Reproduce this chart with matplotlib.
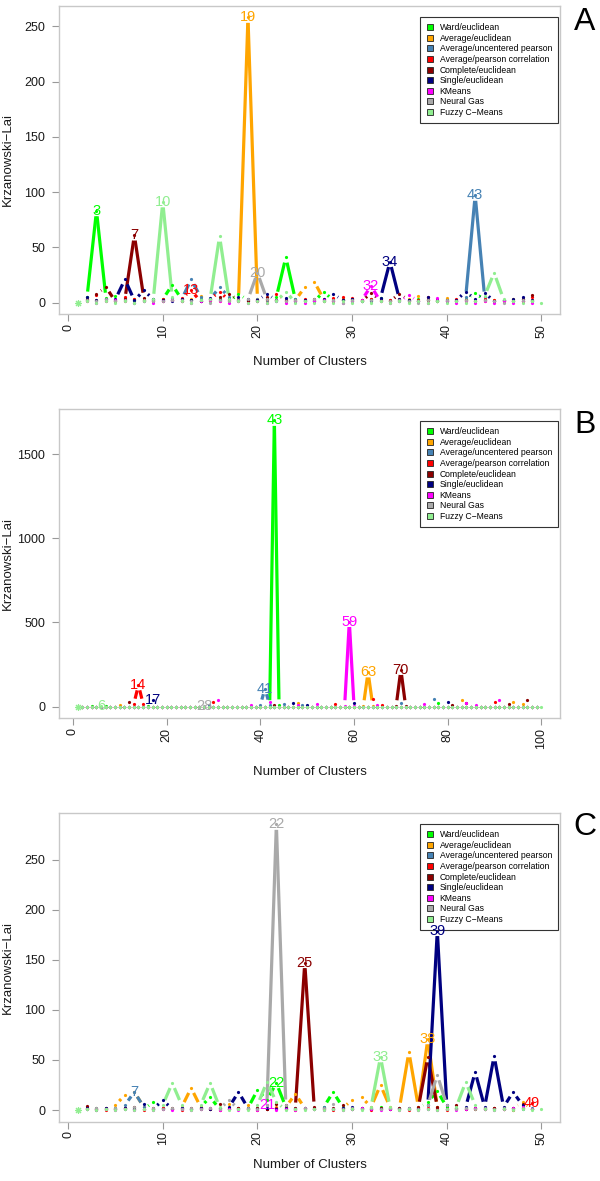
import numpy as np
import matplotlib.pyplot as plt
from matplotlib.lines import Line2D
from matplotlib.ticker import MultipleLocator

plt.rcParams['font.family'] = 'Liberation Sans'

methods = ['Ward/euclidean', 'Average/euclidean', 'Average/uncentered pearson',
           'Average/pearson correlation', 'Complete/euclidean', 'Single/euclidean',
           'KMeans', 'Neural Gas', 'Fuzzy C\u2212Means']
colors = ['#00FF00', '#FFA500', '#4682B4', '#FF0000', '#8B0000',
          '#000080', '#FF00FF', '#A9A9A9', '#90EE90']

# ---- panel A : methods k = 2..49, fuzzy k = 1..50
a_ward = [5, 83, 4, 6, 2, 1, 2, 1, 3, 16,
          3, 2, 3, 1, 3, 1, 8, 2, 1, 3,
          5, 41, 3, 2, 1, 10, 2, 3, 2, 1,
          3, 4, 1, 2, 1, 3, 2, 1, 3, 1,
          3, 9, 2, 1, 2, 1, 1, 1]
a_avg_euc = [1, 2, 1, 2, 1, 3, 1, 2, 1, 2,
             1, 3, 6, 2, 1, 2, 3, 258, 3, 1,
             2, 1, 2, 14, 19, 3, 1, 2, 1, 2,
             1, 2, 1, 2, 3, 6, 2, 1, 4, 2,
             1, 2, 1, 2, 1, 3, 1, 2]
a_avg_unc = [2, 1, 3, 2, 4, 2, 1, 3, 2, 4,
             3, 21, 5, 3, 14, 5, 2, 1, 3, 2,
             1, 2, 3, 1, 2, 1, 3, 2, 1, 2,
             1, 3, 2, 1, 2, 1, 3, 1, 2, 1,
             5, 97, 5, 1, 2, 1, 3, 1]
a_avg_pear = [2, 7, 2, 1, 5, 3, 2, 1, 3, 2,
              4, 11, 1, 3, 10, 2, 1, 2, 1, 3,
              8, 2, 1, 3, 2, 1, 4, 5, 4, 2,
              3, 1, 2, 3, 1, 2, 5, 2, 1, 3,
              2, 1, 3, 2, 1, 2, 1, 5]
a_complete = [3, 8, 14, 1, 3, 61, 4, 2, 1, 2,
              1, 2, 1, 3, 5, 8, 2, 1, 2, 5,
              2, 1, 2, 1, 3, 2, 1, 2, 3, 1,
              9, 2, 1, 8, 2, 1, 2, 1, 2, 1,
              2, 1, 2, 1, 2, 1, 3, 7]
a_single = [5, 2, 3, 3, 21, 2, 11, 3, 2, 1,
            3, 2, 1, 4, 2, 3, 5, 3, 2, 8,
            2, 4, 1, 2, 1, 3, 8, 2, 3, 1,
            2, 4, 37, 3, 2, 1, 5, 2, 1, 2,
            10, 3, 9, 1, 2, 3, 5, 2]
a_kmeans = [1, 0, 1, 2, 1, 0, 1, 0, 1, 2,
            1, 0, 1, 2, 1, 0, 1, 0, 1, 0,
            1, 0, 1, 0, 1, 2, 1, 0, 1, 2,
            15, 1, 0, 1, 7, 1, 0, 4, 1, 0,
            1, 0, 1, 0, 1, 0, 1, 0]
a_ngas = [2, 1, 3, 1, 2, 0, 2, 1, 1, 2,
          2, 1, 2, 0, 2, 1, 2, 3, 27, 3,
          2, 1, 2, 1, 3, 1, 2, 0, 2, 1,
          2, 1, 1, 2, 1, 0, 2, 1, 2, 1,
          2, 1, 2, 1, 0, 1, 2, 1]
a_fuzzy = [0, 1, 0, 1, 0, 1, 0, 1, 3, 91,
           5, 1, 0, 2, 3, 60, 3, 1, 0, 1,
           0, 1, 10, 0, 1, 0, 1, 0, 1, 0,
           1, 0, 1, 0, 1, 0, 1, 0, 1, 0,
           1, 0, 1, 6, 27, 3, 1, 0, 1, 0]

# ---- panel B : methods k = 2..99, fuzzy k = 1..100
b_ward = [0, 0, 2, 0, 0, 3, 0, 0,
          0, 0, 0, 0, 0, 0, 2, 0, 0, 0,
          0, 0, 0, 0, 0, 0, 0, 0, 0, 0,
          0, 0, 0, 0, 0, 0, 0, 0, 0, 0,
          0, 0, 5, 1700, 10, 0, 0, 0, 0, 0,
          0, 0, 0, 0, 0, 0, 0, 0, 0, 0,
          0, 0, 0, 0, 0, 0, 0, 0, 0, 0,
          0, 0, 0, 0, 0, 0, 0, 0, 20, 0,
          0, 0, 0, 0, 0, 0, 0, 0, 0, 0,
          0, 0, 0, 0, 0, 0, 0, 0, 0, 0]
b_avg_euc = [0, 0, 0, 0, 0, 0, 0, 0,
             12, 0, 0, 0, 0, 0, 0, 0, 0, 0,
             0, 0, 0, 0, 0, 0, 0, 0, 0, 0,
             0, 0, 0, 0, 0, 0, 0, 0, 0, 0,
             0, 0, 0, 0, 0, 0, 0, 0, 20, 0,
             0, 0, 0, 0, 0, 0, 0, 0, 0, 0,
             0, 0, 5, 205, 5, 0, 0, 0, 0, 0,
             0, 0, 0, 0, 0, 0, 0, 0, 0, 0,
             0, 0, 0, 40, 0, 0, 0, 0, 0, 0,
             0, 0, 0, 0, 30, 0, 18, 0, 0, 0]
b_avg_unc = [0, 0, 0, 0, 0, 0, 0, 0,
             0, 0, 0, 0, 0, 0, 0, 0, 0, 0,
             0, 0, 0, 0, 0, 0, 0, 0, 0, 10,
             0, 0, 0, 0, 0, 0, 0, 0, 0, 0,
             10, 105, 10, 0, 0, 15, 0, 0, 0, 12,
             0, 0, 0, 0, 0, 0, 0, 0, 0, 0,
             0, 0, 0, 0, 0, 0, 0, 0, 0, 0,
             20, 0, 0, 0, 0, 0, 0, 45, 0, 0,
             0, 0, 0, 0, 0, 0, 0, 0, 0, 0,
             0, 0, 0, 0, 0, 0, 0, 0, 0, 0]
b_avg_pear = [0, 0, 0, 0, 0, 0, 0, 0,
              0, 0, 0, 15, 128, 15, 0, 0, 0, 0,
              0, 0, 0, 0, 0, 0, 0, 0, 0, 0,
              25, 0, 0, 0, 0, 0, 0, 0, 0, 0,
              0, 0, 0, 0, 0, 0, 0, 0, 0, 0,
              0, 0, 0, 0, 0, 0, 15, 0, 0, 0,
              0, 0, 0, 0, 45, 0, 12, 0, 0, 0,
              0, 0, 0, 0, 0, 0, 0, 0, 0, 0,
              0, 0, 0, 0, 0, 0, 0, 0, 0, 0,
              25, 0, 0, 0, 0, 0, 0, 0, 0, 0]
b_complete = [0, 0, 0, 0, 0, 0, 0, 0,
              0, 0, 25, 0, 0, 0, 0, 0, 0, 0,
              0, 0, 0, 0, 0, 0, 0, 0, 0, 0,
              0, 0, 0, 0, 0, 0, 0, 0, 0, 0,
              0, 0, 0, 10, 0, 0, 0, 0, 0, 0,
              0, 0, 0, 0, 0, 0, 0, 0, 0, 0,
              0, 0, 0, 0, 0, 0, 0, 0, 0, 5,
              220, 5, 0, 0, 0, 0, 0, 0, 0, 0,
              0, 12, 0, 0, 20, 0, 0, 0, 0, 0,
              0, 0, 0, 16, 0, 0, 0, 40, 0, 0]
b_single = [0, 0, 0, 0, 0, 0, 0, 0,
            0, 0, 0, 0, 0, 0, 0, 40, 0, 0,
            0, 0, 0, 0, 0, 0, 0, 0, 0, 0,
            0, 0, 0, 0, 0, 0, 0, 0, 0, 0,
            0, 0, 0, 0, 0, 0, 0, 22, 0, 0,
            10, 0, 0, 0, 0, 0, 0, 0, 0, 0,
            20, 0, 0, 0, 0, 0, 0, 0, 0, 0,
            0, 0, 0, 0, 0, 0, 0, 0, 0, 0,
            28, 0, 0, 0, 0, 0, 0, 0, 0, 0,
            0, 0, 0, 0, 0, 0, 0, 0, 0, 0]
b_kmeans = [0, 0, 0, 0, 0, 0, 0, 0,
            0, 0, 0, 0, 0, 0, 0, 0, 0, 0,
            0, 0, 0, 0, 0, 0, 0, 0, 0, 0,
            0, 40, 0, 0, 0, 0, 0, 0, 12, 0,
            0, 0, 30, 0, 0, 0, 0, 0, 12, 0,
            0, 0, 15, 0, 0, 0, 0, 0, 5, 505,
            5, 0, 0, 0, 0, 12, 0, 0, 0, 0,
            0, 0, 0, 0, 0, 14, 0, 0, 0, 0,
            0, 0, 0, 0, 20, 0, 10, 0, 0, 0,
            0, 40, 0, 0, 0, 0, 0, 0, 0, 0]
b_ngas = [0, 0, 0, 0, 0, 0, 0, 0,
          0, 0, 0, 0, 0, 0, 0, 0, 0, 0,
          0, 0, 0, 0, 0, 0, 0, 0, 6, 0,
          0, 0, 0, 0, 0, 0, 0, 0, 0, 0,
          0, 0, 0, 0, 0, 0, 0, 0, 0, 0,
          0, 0, 0, 0, 0, 0, 0, 0, 0, 0,
          0, 0, 0, 0, 0, 0, 0, 0, 0, 0,
          0, 0, 0, 0, 0, 0, 0, 0, 0, 0,
          0, 0, 0, 0, 0, 0, 0, 0, 0, 0,
          0, 0, 0, 0, 0, 0, 0, 0, 0, 0]
b_fuzzy = [0, 0, 0, 0, 0, 1, 0, 0, 0, 0,
           0, 0, 0, 0, 0, 0, 0, 0, 0, 0,
           0, 0, 0, 0, 0, 0, 0, 0, 0, 0,
           0, 0, 0, 0, 0, 0, 0, 0, 0, 0,
           0, 0, 0, 0, 0, 0, 0, 0, 0, 0,
           0, 0, 0, 0, 0, 0, 0, 0, 0, 0,
           0, 0, 0, 0, 0, 0, 0, 0, 0, 0,
           0, 0, 0, 0, 0, 0, 0, 0, 0, 0,
           0, 0, 0, 0, 0, 0, 0, 0, 0, 0,
           0, 0, 0, 0, 0, 0, 0, 0, 0, 0]

# ---- panel C : methods k = 2..49, fuzzy k = 1..50
c_ward = [1, 0, 1, 2, 1, 2, 1, 8, 2, 1,
          2, 1, 3, 13, 1, 2, 1, 2, 20, 10,
          27, 3, 1, 2, 1, 3, 18, 3, 1, 2,
          1, 3, 1, 2, 1, 2, 8, 19, 3, 1,
          2, 1, 2, 1, 2, 1, 2, 1]
c_avg_euc = [1, 2, 1, 5, 15, 18, 3, 1, 2, 1,
             3, 22, 3, 1, 2, 6, 1, 5, 2, 1,
             3, 3, 16, 2, 1, 2, 1, 2, 10, 13,
             3, 25, 3, 2, 58, 3, 71, 3, 1, 2,
             1, 2, 1, 2, 1, 2, 8, 1]
c_avg_unc = [1, 2, 1, 2, 5, 18, 3, 1, 2, 1,
             2, 1, 2, 1, 2, 1, 2, 1, 2, 1,
             2, 1, 2, 1, 2, 3, 1, 2, 1, 2,
             1, 2, 1, 2, 1, 2, 1, 2, 1, 2,
             1, 2, 1, 2, 1, 2, 1, 2]
c_avg_pear = [2, 1, 0, 1, 2, 1, 0, 1, 2, 1,
              0, 1, 2, 1, 0, 1, 2, 1, 0, 1,
              2, 1, 0, 1, 2, 1, 0, 1, 2, 1,
              0, 1, 2, 1, 0, 1, 2, 1, 0, 1,
              2, 1, 2, 2, 1, 0, 2, 7]
c_complete = [4, 1, 2, 1, 2, 3, 1, 2, 1, 2,
              1, 2, 1, 2, 6, 1, 2, 1, 2, 1,
              6, 5, 2, 147, 3, 1, 2, 5, 1, 2,
              1, 2, 1, 2, 1, 3, 53, 3, 1, 5,
              1, 2, 1, 2, 1, 2, 6, 1]
c_single = [2, 1, 2, 1, 2, 1, 6, 1, 10, 1,
            2, 1, 2, 1, 2, 3, 18, 2, 1, 2,
            1, 2, 1, 2, 1, 2, 1, 2, 3, 1,
            2, 1, 2, 1, 2, 1, 5, 179, 5, 2,
            3, 38, 3, 54, 3, 18, 5, 1]
c_kmeans = [1, 0, 1, 0, 1, 0, 1, 0, 1, 0,
            1, 0, 1, 2, 0, 1, 0, 1, 0, 5,
            0, 1, 0, 2, 1, 0, 1, 0, 1, 2,
            1, 0, 1, 0, 1, 0, 1, 0, 1, 0,
            1, 2, 1, 0, 1, 2, 3, 1]
c_ngas = [1, 2, 1, 2, 1, 3, 1, 2, 1, 2,
          1, 2, 1, 2, 1, 10, 1, 2, 1, 5,
          285, 5, 1, 2, 1, 2, 6, 1, 2, 1,
          2, 1, 2, 1, 2, 1, 5, 35, 5, 1,
          2, 1, 2, 1, 2, 1, 2, 1]
c_fuzzy = [0, 1, 0, 1, 0, 1, 0, 1, 0, 5,
           27, 5, 0, 5, 27, 3, 0, 1, 0, 5,
           28, 8, 0, 1, 0, 1, 0, 1, 0, 1,
           0, 3, 53, 3, 0, 1, 0, 1, 0, 1,
           3, 28, 5, 1, 0, 1, 0, 1, 0, 1]

panels = [
    ('A', [a_ward, a_avg_euc, a_avg_unc, a_avg_pear, a_complete, a_single, a_kmeans, a_ngas], a_fuzzy,
     10, 50, 6, 314, 362, 22, 17),
    ('B', [b_ward, b_avg_euc, b_avg_unc, b_avg_pear, b_complete, b_single, b_kmeans, b_ngas], b_fuzzy,
     20, 500, 409, 718, 772, 425, 421),
    ('C', [c_ward, c_avg_euc, c_avg_unc, c_avg_pear, c_complete, c_single, c_kmeans, c_ngas], c_fuzzy,
     10, 50, 813, 1121.5, 1165, 827, 824),
]

W, H = 600, 1181
GAP = 5.5   # px cut at each end of a segment, like R's type="b"
fig = plt.figure(figsize=(W / 100, H / 100), dpi=100)


def linked(ax, ks, vals, color):
    pts = ax.transData.transform(np.column_stack([ks, vals]))
    inv = ax.transData.inverted()
    for p, q in zip(pts[:-1], pts[1:]):
        d = q - p
        n = np.hypot(d[0], d[1])
        if n <= 2 * GAP:
            continue
        u = d / n
        s, e = inv.transform([p + u * GAP, q - u * GAP])
        ax.plot([s[0], e[0]], [s[1], e[1]], color=color, lw=2.3,
                solid_capstyle='butt', zorder=2)


for letter, series, fuzzy, xstep, ystep, top, bottom, xlab_y, let_y, leg_y in panels:
    ax = fig.add_axes([59 / W, 1 - bottom / H, 501 / W, (bottom - top) / H])
    n = len(fuzzy)
    ks = np.arange(2, n)
    kf = np.arange(1, n + 1)
    allk = [ks] * len(series) + [kf]
    allv = [np.array(s, float) for s in series] + [np.array(fuzzy, float)]

    for k, v, c in zip(allk, allv, colors):
        ax.plot(k, v, ls='none', marker='o', ms=2.3, mec='none', mfc=c, zorder=3)
    ax.margins(0.04)
    xl, yl = ax.get_xlim(), ax.get_ylim()
    ax.set_xlim(xl)
    ax.set_ylim(yl)

    for k, v, c in zip(allk, allv, colors):
        if c == colors[-1]:
            linked(ax, k[1:], v[1:], c)
            ax.plot(k[:1], v[:1], ls='none', marker=(8, 2, 0), ms=5, mec=c, mew=0.8, zorder=3)
        else:
            linked(ax, k, v, c)

    for k, v, c in zip(allk, allv, colors):
        i = int(np.argmax(v))
        ax.text(k[i], v[i], str(k[i]), color=c, fontsize=10.5, ha='center', va='center', zorder=6)

    ax.xaxis.set_major_locator(MultipleLocator(xstep))
    ax.yaxis.set_major_locator(MultipleLocator(ystep))
    for sp in ax.spines.values():
        sp.set_color('#c8c8c8')
        sp.set_linewidth(1.0)
    ax.tick_params(axis='both', length=5, width=0.8, color='#999999',
                   labelsize=9, labelcolor='#1a1a1a')
    ax.tick_params(axis='x', pad=2, labelrotation=90)
    ax.tick_params(axis='y', pad=5)

    ax.set_xlabel('Number of Clusters', fontsize=9.5, color='#1a1a1a', va='center')
    ax.xaxis.set_label_coords(0.5, -(xlab_y - bottom) / (bottom - top))
    ax.set_ylabel('Krzanowski\u2212Lai', fontsize=9.5, color='#1a1a1a', va='center')
    ax.yaxis.set_label_coords(-(59 - 8) / 501, 0.5)

    handles = [Line2D([], [], ls='none', marker='s', ms=4.8, mfc=c, mec='#222222', mew=0.6)
               for c in colors]
    leg = ax.legend(handles, methods, loc='upper right',
                    bbox_to_anchor=(558 / W, 1 - leg_y / H), bbox_transform=fig.transFigure,
                    borderaxespad=0, fontsize=6.2, labelspacing=0.19, handlelength=1.0,
                    handletextpad=0.6, borderpad=0.7, fancybox=False, framealpha=1,
                    edgecolor='#333333')
    leg.get_frame().set_linewidth(0.8)
    leg.set_zorder(5)

    fig.text(585 / W, 1 - let_y / H, letter, fontsize=23, ha='center', va='center')

fig.savefig('out.png', dpi=100)
